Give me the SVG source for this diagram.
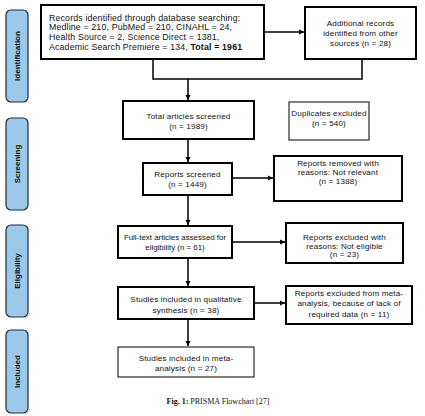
<svg xmlns="http://www.w3.org/2000/svg" width="425" height="416" viewBox="0 0 425 416">
<style>
.side{fill:#9cc8ea;stroke:#1f2a36;stroke-width:1.2}
.st{font-family:"Liberation Sans",Arial,sans-serif;font-size:8px;font-weight:bold;fill:#111;text-anchor:middle}
.thick{fill:#fff;stroke:#000;stroke-width:2}
.thin{fill:#fff;stroke:#000;stroke-width:1}
.t{font-family:"Liberation Sans",Arial,sans-serif;font-size:8.1px;letter-spacing:0.15px;fill:#111}
.big{font-size:8.8px;letter-spacing:0.15px}
.tight{font-size:7.9px;letter-spacing:0}
.c{text-anchor:middle}
.ln{fill:none;stroke:#000;stroke-width:1.5}
.cap{font-family:"Liberation Serif","Times New Roman",serif;font-size:8px;fill:#111;text-anchor:middle}
</style>
<defs>
<marker id="ah" markerWidth="6" markerHeight="6" refX="5" refY="3" orient="auto" markerUnits="userSpaceOnUse">
<path d="M0,0.5 L5,3 L0,5.5 z" fill="#000"/>
</marker>
</defs>
<rect width="425" height="416" fill="#fff"/>

<g id="phase-identification"><rect class="side" x="6" y="10" width="22" height="92" rx="5"/><text class="st" transform="translate(20,56) rotate(-90)">Identification</text></g>
<g id="phase-screening"><rect class="side" x="6" y="118" width="22" height="92" rx="5"/><text class="st" transform="translate(20,164) rotate(-90)">Screening</text></g>
<g id="phase-eligibility"><rect class="side" x="6" y="225" width="22" height="92" rx="5"/><text class="st" transform="translate(20,271) rotate(-90)">Eligibility</text></g>
<g id="phase-included"><rect class="side" x="6" y="330" width="22" height="83" rx="5"/><text class="st" transform="translate(20,371.5) rotate(-90)">Included</text></g>

<g id="connectors">
<line class="ln" x1="264" y1="32" x2="304" y2="32" marker-end="url(#ah)"/>
<polyline class="ln" points="153,60 153,79 362,79 362,59"/>
<line class="ln" x1="188" y1="79" x2="188" y2="100" marker-end="url(#ah)"/>
<line class="ln" x1="188" y1="140" x2="188" y2="162" marker-end="url(#ah)"/>
<line class="ln" x1="232" y1="178" x2="273" y2="178" marker-end="url(#ah)"/>
<line class="ln" x1="188" y1="196" x2="188" y2="225" marker-end="url(#ah)"/>
<line class="ln" x1="232" y1="242" x2="285" y2="242" marker-end="url(#ah)"/>
<line class="ln" x1="188" y1="259" x2="188" y2="286" marker-end="url(#ah)"/>
<line class="ln" x1="254" y1="303" x2="285" y2="303" marker-end="url(#ah)"/>
<line class="ln" x1="188" y1="320" x2="188" y2="346" marker-end="url(#ah)"/>
</g>

<g id="records-db"><rect class="thick" x="41" y="5" width="223" height="54"/>
<text class="t big" x="49" y="20.5">Records identified through database searching:</text>
<text class="t big" x="49" y="30.3">Medline = 210, PubMed = 210, CINAHL = 24,</text>
<text class="t big" x="49" y="40.1">Health Source = 2, Science Direct = 1381,</text>
<text class="t big" x="49" y="50">Academic Search Premiere = 134, <tspan font-weight="bold">Total = 1961</tspan></text></g>

<g id="records-other"><rect class="thick" x="305" y="7" width="111" height="52"/>
<text class="t c" x="360.5" y="26">Additional records</text>
<text class="t c" x="360.5" y="36">identified from other</text>
<text class="t c" x="360.5" y="46">sources (n = 28)</text></g>

<g id="screened"><rect class="thick" x="123" y="101" width="131" height="38"/>
<text class="t c" x="188.5" y="118.5">Total articles screened</text>
<text class="t c" x="188.5" y="129">(n = 1989)</text></g>

<g id="duplicates"><rect class="thin" x="289" y="102" width="80" height="38"/>
<text class="t c" x="329" y="116">Duplicates excluded</text>
<text class="t c" x="329" y="126">(n = 540)</text></g>

<g id="reports-screened"><rect class="thick" x="143" y="163" width="89" height="32"/>
<text class="t c" x="187.5" y="176.5">Reports screened</text>
<text class="t c" x="187.5" y="187">(n = 1449)</text></g>

<g id="reports-removed"><rect class="thick" x="274" y="156" width="128" height="45"/>
<text class="t c" x="338" y="165.5">Reports removed with</text>
<text class="t c" x="338" y="174.5">reasons: Not relevant</text>
<text class="t c" x="338" y="183.5">(n = 1388)</text></g>

<g id="fulltext"><rect class="thick" x="118" y="226" width="114" height="32"/>
<text class="t tight c" x="175" y="240">Full-text articles assessed for</text>
<text class="t tight c" x="175" y="250">eligibility (n = 61)</text></g>

<g id="excluded-eligible"><rect class="thick" x="286" y="223" width="117" height="40"/>
<text class="t c" x="344.5" y="240">Reports excluded with</text>
<text class="t c" x="344.5" y="248.5">reasons: Not eligible</text>
<text class="t c" x="344.5" y="257">(n = 23)</text></g>

<g id="qualitative"><rect class="thick" x="118" y="287" width="136" height="32"/>
<text class="t c" x="186" y="302">Studies included in qualitative</text>
<text class="t c" x="186" y="313">synthesis (n = 38)</text></g>

<g id="excluded-meta"><rect class="thick" x="286" y="286" width="126" height="38"/>
<text class="t c" x="349" y="296">Reports excluded from meta-</text>
<text class="t c" x="349" y="306">analysis, because of lack of</text>
<text class="t c" x="349" y="317">required data (n = 11)</text></g>

<g id="meta"><rect class="thin" x="118" y="347" width="136" height="30"/>
<text class="t c" x="186" y="361">Studies included in meta-</text>
<text class="t c" x="186" y="371">analysis (n = 27)</text></g>

<text class="cap" x="218" y="404"><tspan font-weight="bold">Fig. 1:</tspan> PRISMA Flowchart [27]</text>
</svg>
